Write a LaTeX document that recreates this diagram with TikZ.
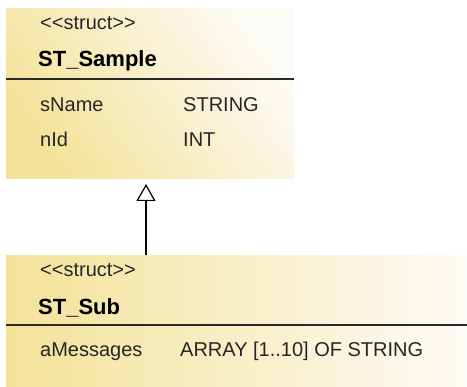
\documentclass[tikz,border=0pt]{standalone}
\usepackage{fontspec}
\setmainfont{Liberation Sans}
\usetikzlibrary{arrows.meta}
\definecolor{ylw}{RGB}{244,226,152}
\definecolor{wht}{RGB}{253,251,246}
\definecolor{lineclr}{RGB}{40,40,40}
\tikzset{
  classbox/.style={rectangle, draw=none, inner sep=0pt, anchor=north west, left color=ylw, right color=wht},
  txt/.style={anchor=base west, inner sep=0pt, font=\fontsize{20}{22}\selectfont, text=black!85},
  stereo/.style={anchor=base west, inner sep=0pt, font=\fontsize{20}{22}\selectfont, text=black!85},
  cname/.style={anchor=base west, inner sep=0pt, font=\fontsize{22}{24}\selectfont\bfseries, text=black},
  divider/.style={draw=lineclr, line width=1.4pt},
  genarrow/.style={draw=black, line width=1.3pt, -{Triangle[open, length=17pt, width=19pt, line width=1.2pt]}}
}
\begin{document}
\begin{tikzpicture}[x=1pt,y=-1pt]
\useasboundingbox (0,0) rectangle (467,387);
\fill[white] (0,0) rectangle (467,387);
% base class
\node[classbox, shading angle=125, minimum width=288pt, minimum height=170pt] (sample) at (6,8) {};
\node[stereo] (s1) at (40,30) {{<}{<}struct{>}{>}};
\node[cname] (n1) at (38,67) {ST\_Sample};
\coordinate (d1l) at (6,79);
\coordinate (d1r) at (294,79);
\draw[divider] (d1l) -- (d1r);
\node[txt] (a1) at (40,112) {sName};
\node[txt] (t1) at (183,112) {STRING};
\node[txt] (a2) at (40,147) {nId};
\node[txt] (t2) at (183,147) {INT};
% derived class
\node[classbox, minimum width=461pt, minimum height=132pt] (sub) at (6,255) {};
\node[stereo] (s2) at (40,277) {{<}{<}struct{>}{>}};
\node[cname] (n2) at (38,315) {ST\_Sub};
\coordinate (d2l) at (6,325);
\coordinate (d2r) at (467,325);
\draw[divider] (d2l) -- (d2r);
\node[txt] (a3) at (40,357) {aMessages};
\node[txt] (t3) at (180,357) {ARRAY [1..10] OF STRING};
% generalization
\coordinate (gfrom) at (146,255);
\coordinate (gto) at (146,184);
\draw[genarrow] (gfrom) -- (gto);
\end{tikzpicture}
\end{document}
